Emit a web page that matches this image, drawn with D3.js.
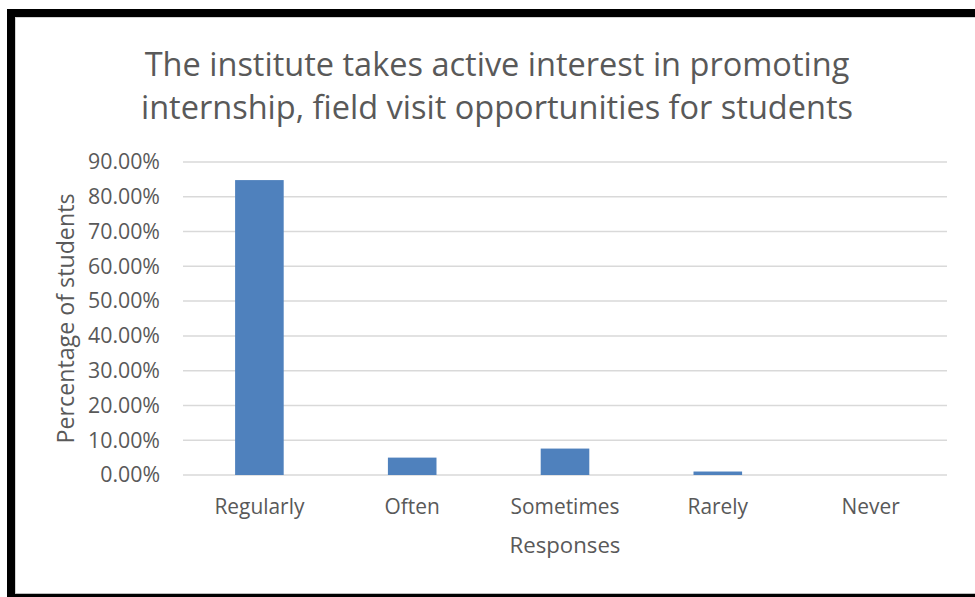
<!DOCTYPE html>
<html>
<head>
<meta charset="utf-8">
<script src="https://cdn.jsdelivr.net/npm/d3@7"></script>
<style>
  html, body { margin: 0; padding: 0; background: #fff; }
  svg { display: block; }
  text { font-family: "Open Sans", Lato, sans-serif; fill: #595959; }
</style>
</head>
<body>
<svg id="chart" width="975" height="597"></svg>
<script>
const categories = ["Regularly", "Often", "Sometimes", "Rarely", "Never"];
const values = [0.848, 0.050, 0.076, 0.010, 0.0];
const yTicks = [0, 0.1, 0.2, 0.3, 0.4, 0.5, 0.6, 0.7, 0.8, 0.9];
const titleLines = ["The institute takes active interest in promoting", "internship, field visit opportunities for students"];
const xTitle = "Responses";
const yTitle = "Percentage of students";

const svg = d3.select("#chart");
const W = 975, H = 597;
const plot = { left: 183, right: 947, top: 162, bottom: 475 };
const FONT = "'Open Sans', Lato, sans-serif";

// scale font-size of a selection so that the first node measures targetWidth
function fitSize(sel, base, targetWidth) {
  sel.attr("font-size", base);
  const w = sel.node().getComputedTextLength();
  sel.attr("font-size", base * targetWidth / w);
}

// frame borders (black image edges)
svg.append("rect").attr("x", 0).attr("y", 0).attr("width", W).attr("height", H).attr("fill", "#fff");
svg.append("rect").attr("x", 7).attr("y", 9).attr("width", W - 7).attr("height", 8).attr("fill", "#000");
svg.append("rect").attr("x", 7).attr("y", 9).attr("width", 8).attr("height", H - 9).attr("fill", "#000");
svg.append("rect").attr("x", 7).attr("y", 594).attr("width", W - 7).attr("height", 3).attr("fill", "#000");
svg.append("line").attr("x1", 15).attr("x2", W).attr("y1", 17.5).attr("y2", 17.5).attr("stroke", "#d4d4d4").attr("stroke-width", 1);
svg.append("line").attr("x1", 15.5).attr("x2", 15.5).attr("y1", 17).attr("y2", 594).attr("stroke", "#d4d4d4").attr("stroke-width", 1);
svg.append("line").attr("x1", 15).attr("x2", W).attr("y1", 593.5).attr("y2", 593.5).attr("stroke", "#bdbdbd").attr("stroke-width", 1);

const x = d3.scaleBand().domain(categories).range([plot.left, plot.right]).paddingInner(0.682).paddingOuter(0.341);
const y = d3.scaleLinear().domain([0, 0.9]).range([plot.bottom, plot.top]);

// gridlines
svg.append("g").selectAll("line").data(yTicks).join("line")
  .attr("x1", plot.left).attr("x2", plot.right)
  .attr("y1", d => y(d)).attr("y2", d => y(d))
  .attr("stroke", "#d9d9d9").attr("stroke-width", 1.5);

// y axis labels
const yAxis = d3.axisLeft(y).tickValues(yTicks).tickFormat(d3.format(".2%")).tickSize(0).tickPadding(23);
const ya = svg.append("g").attr("transform", `translate(${plot.left},0)`).call(yAxis);
ya.select(".domain").remove();
const yText = ya.selectAll("text").style("fill", "#595959").attr("font-family", FONT);
fitSize(ya.selectAll("text").filter(d => d === 0.9), 18, 72);
yText.attr("font-size", ya.selectAll("text").filter(d => d === 0.9).attr("font-size"));

// bars
svg.append("g").selectAll("rect").data(categories).join("rect")
  .attr("x", d => x(d))
  .attr("width", x.bandwidth())
  .attr("y", (d, i) => y(values[i]))
  .attr("height", (d, i) => y(0) - y(values[i]))
  .attr("fill", "#4f81bd");

// x axis labels
const xAxis = d3.axisBottom(x).tickSize(0).tickPadding(24);
const xa = svg.append("g").attr("transform", `translate(0,${plot.bottom})`).call(xAxis);
xa.select(".domain").remove();
const xText = xa.selectAll("text").style("fill", "#595959").attr("font-family", FONT);
const reg = xa.selectAll("text").filter(d => d === "Regularly");
fitSize(reg, 18, 90);
xText.attr("font-size", reg.attr("font-size"));

// title
const tl = svg.append("g").selectAll("text").data(titleLines).join("text")
  .attr("x", 497).attr("y", (d, i) => 76 + i * 43)
  .attr("text-anchor", "middle")
  .text(d => d);
fitSize(tl.filter((d, i) => i === 0), 31, 705);
tl.attr("font-size", tl.filter((d, i) => i === 0).attr("font-size"));

// axis titles
const xt = svg.append("text").attr("x", (plot.left + plot.right) / 2).attr("y", 553)
  .attr("text-anchor", "middle").text(xTitle);
fitSize(xt, 20, 111);
const yt = svg.append("text").attr("transform", `translate(74,${(plot.top + plot.bottom) / 2}) rotate(-90)`)
  .attr("text-anchor", "middle").text(yTitle);
fitSize(yt, 20, 250);
</script>
</body>
</html>
